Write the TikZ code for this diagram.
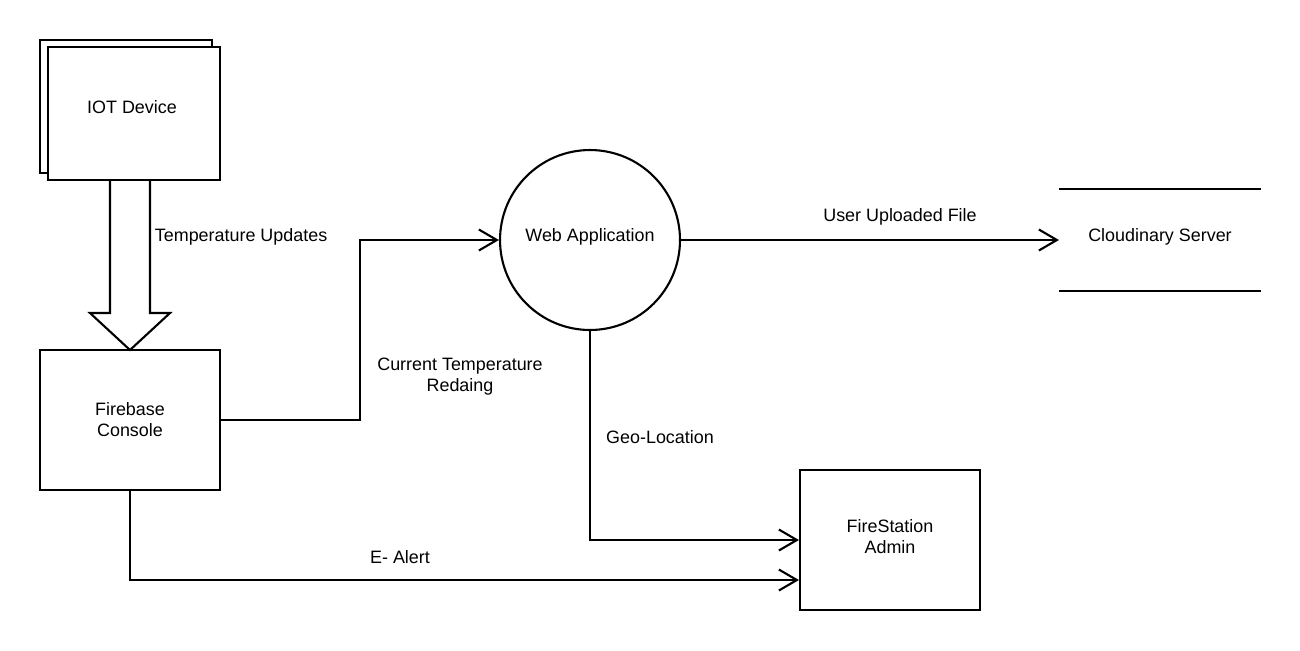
\documentclass[tikz,border=0pt]{standalone}
\usepackage{fontspec}
\setmainfont{Liberation Sans}
\usetikzlibrary{arrows.meta,calc}

\begin{document}
\begin{tikzpicture}[x=0.02cm,y=-0.02cm,line width=1.2pt,
    font=\fontsize{10.2}{12}\selectfont,
    box/.style={draw,align=center,minimum width=3.6cm,minimum height=2.8cm},
    flow/.style={-{Straight Barb[length=0.36cm,width=0.42cm]}}]
    \useasboundingbox (0,0) rectangle (1300,650);
    % iot device (stacked)
    \draw[fill=white] (40,40) rectangle (212,173);
    \node[box,fill=white,minimum width=3.44cm,minimum height=2.66cm] (iot) at (134,113.5) {};
    \node (iottext) at (132,107) {IOT Device};
    \node[box] (fire) at (130,420) {Firebase\\Console};
    \node[draw,circle,minimum size=3.6cm] (web) at (590,240) {};
    \node (webtext) at (590,237) {Web Application};
    \node[minimum width=4cm,minimum height=2cm] (cloud) at (1160,240) {};
    \node (cloudtext) at (1160,237) {Cloudinary Server};
    \draw (cloud.north west) -- (cloud.north east);
    \draw (cloud.south west) -- (cloud.south east);
    \node[box] (admin) at (890,540) {};
    \node[align=center] (admintext) at (890,537) {FireStation\\Admin};
    % big arrow
    \draw (110,180) -- (110,313) -- (90,313) -- (130,350) -- (170,313) -- (150,313) -- (150,180);
    \node[anchor=west] (templabel) at (148,237) {Temperature Updates};
    % connectors
    \draw[flow] (fire.east) -- (360,420) -- (360,240) -- (web.west);
    \node[align=center] (curlabel) at (460,377) {Current Temperature\\Redaing};
    \draw[flow] (web.east) -- (cloud.west);
    \node (uplabel) at (900,217) {User Uploaded File};
    \coordinate (geo) at (admin.west |- 0,540);
    \draw[flow] (web.south) -- (590,540) -- (geo);
    \node (geolabel) at (660,437) {Geo-Location};
    \coordinate (alert) at (admin.west |- 0,580);
    \draw[flow] (fire.south) -- (130,580) -- (alert);
    \node (alertlabel) at (400,557) {E- Alert};
\end{tikzpicture}
\end{document}
